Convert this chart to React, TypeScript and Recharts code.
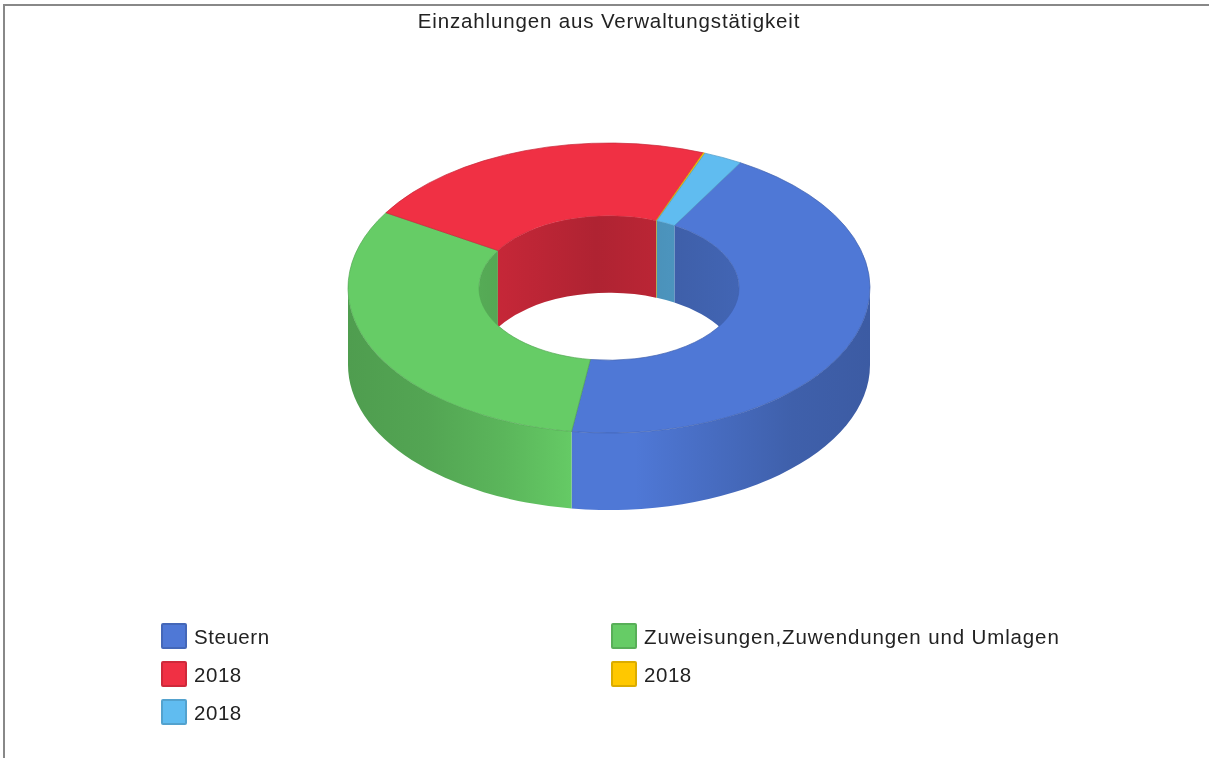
import React from 'react';
import { PieChart, Pie, Legend } from 'recharts';

const title = 'Einzahlungen aus Verwaltungstätigkeit';
const categories = ['Steuern', 'Zuweisungen,Zuwendungen und Umlagen', '2018', '2018', '2018'];
const values = [43.9, 31.4, 22.2, 0.1, 2.4];
const colors = ['#4F78D6', '#66CC66', '#F03044', '#FFC800', '#60BCF0'];

const tableData = categories.map((name, i) => ({ name, value: values[i], fill: colors[i], key: i }));

const W = 1209;
const H = 758;
const CX = 609;
const CY = 288;
const RX = 261;
const RI = 130;
const SQUASH = 145 / 261;
const DEPTH = 77;
const FONT = '"Liberation Sans", Arial, sans-serif';

const px = (cx: number, r: number, a: number) => cx + r * Math.cos((a * Math.PI) / 180);
const py = (cy: number, r: number, a: number) => cy - r * SQUASH * Math.sin((a * Math.PI) / 180);

const shade = (hex: string, f: number) => {
  const n = parseInt(hex.slice(1), 16);
  const c = [(n >> 16) & 255, (n >> 8) & 255, n & 255].map((v) => Math.round(v * f));
  return `rgb(${c[0]},${c[1]},${c[2]})`;
};

// Angles run clockwise: start > end.
const topPath = (p: any) => {
  const { cx, cy, innerRadius: ri, outerRadius: ro, startAngle: s, endAngle: e } = p;
  const large = Math.abs(s - e) > 180 ? 1 : 0;
  return [
    `M${px(cx, ro, s)},${py(cy, ro, s)}`,
    `A${ro},${ro * SQUASH} 0 ${large} 1 ${px(cx, ro, e)},${py(cy, ro, e)}`,
    `L${px(cx, ri, e)},${py(cy, ri, e)}`,
    `A${ri},${ri * SQUASH} 0 ${large} 0 ${px(cx, ri, s)},${py(cy, ri, s)}`,
    'Z',
  ].join(' ');
};

const wallSegments = (s: number, e: number, windows: number[][]) =>
  windows
    .map(([hi, lo]) => [Math.min(s, hi), Math.max(e, lo)])
    .filter(([a, b]) => a - b > 0.01);

const wallPath = (cx: number, cy: number, r: number, a: number, b: number) =>
  [
    `M${px(cx, r, a)},${py(cy, r, a)}`,
    `A${r},${r * SQUASH} 0 0 1 ${px(cx, r, b)},${py(cy, r, b)}`,
    `L${px(cx, r, b)},${py(cy, r, b) + DEPTH}`,
    `A${r},${r * SQUASH} 0 0 0 ${px(cx, r, a)},${py(cy, r, a) + DEPTH}`,
    'Z',
  ].join(' ');

const TopShape = (p: any) => (
  <path d={topPath(p)} fill={p.fill} stroke={shade(p.fill, 0.82)} strokeWidth={0.7} strokeLinejoin="round" />
);

const OuterWall = (p: any) => {
  const { cx, cy, outerRadius: ro, startAngle: s, endAngle: e, fill, index } = p;
  const id = `outer-${index}`;
  const segs = wallSegments(s, e, [[0, -180], [-360, -540]]);
  if (!segs.length) return <g />;
  return (
    <g>
      <defs>
        <linearGradient id={id} gradientUnits="userSpaceOnUse" x1={cx - ro} x2={cx + ro} y1={0} y2={0}>
          <stop offset="0" stopColor={shade(fill, 0.77)} />
          <stop offset="0.15" stopColor={shade(fill, 0.81)} />
          <stop offset="0.3" stopColor={shade(fill, 0.89)} />
          <stop offset="0.44" stopColor={shade(fill, 1)} />
          <stop offset="0.55" stopColor={shade(fill, 1)} />
          <stop offset="0.85" stopColor={shade(fill, 0.8)} />
          <stop offset="1" stopColor={shade(fill, 0.76)} />
        </linearGradient>
      </defs>
      {segs.map(([a, b], i) => (
        <path key={i} d={wallPath(cx, cy, ro, a, b)} fill={`url(#${id})`} />
      ))}
    </g>
  );
};

const InnerWall = (p: any) => {
  const { cx, cy, innerRadius: ri, startAngle: s, endAngle: e, fill, index } = p;
  const id = `inner-${index}`;
  const segs = wallSegments(s, e, [[180, 0], [-180, -360]]);
  if (!segs.length) return <g />;
  return (
    <g>
      <defs>
        <linearGradient id={id} gradientUnits="userSpaceOnUse" x1={cx - ri} x2={cx + ri} y1={0} y2={0}>
          <stop offset="0" stopColor={shade(fill, 0.84)} />
          <stop offset="0.45" stopColor={shade(fill, 0.73)} />
          <stop offset="1" stopColor={shade(fill, 0.84)} />
        </linearGradient>
      </defs>
      {segs.map(([a, b], i) => (
        <path key={i} d={wallPath(cx, cy, ri, a, b)} fill={`url(#${id})`} />
      ))}
    </g>
  );
};

const LegendBox = ({ payload }: any) => (
  <div style={{ position: 'relative', width: W, height: H }}>
    {(payload || []).slice(0, categories.length).map((item: any, i: number) => {
      const left = i % 2 === 0 ? 161 : 611;
      const top = 623 + Math.floor(i / 2) * 38;
      return (
        <div key={i} style={{ position: 'absolute', left, top, height: 26, display: 'flex', alignItems: 'center', whiteSpace: 'nowrap' }}>
          <span
            style={{
              display: 'block',
              boxSizing: 'border-box',
              width: 26,
              height: 26,
              background: item.color,
              border: `2px solid ${shade(item.color, 0.86)}`,
              borderRadius: 2,
            }}
          />
          <span
            style={{
              marginLeft: 7,
              position: 'relative',
              top: 1,
              fontFamily: FONT,
              fontSize: 20.5,
              letterSpacing: String(item.value).length > 10 ? 0.87 : 0.55,
              color: '#222',
            }}
          >
            {item.value}
          </span>
        </div>
      );
    })}
  </div>
);

export default function App() {
  const common = {
    data: tableData,
    dataKey: 'value',
    nameKey: 'name',
    cx: CX,
    cy: CY,
    innerRadius: RI,
    outerRadius: RX,
    startAngle: 59.8,
    endAngle: -300.2,
    paddingAngle: 0,
    isAnimationActive: false,
  };
  return (
    <div style={{ position: 'absolute', left: 0, top: 0, width: W, height: H, overflow: 'hidden', background: '#fff', filter: 'blur(0.45px)' }}>
      <div style={{ position: 'absolute', left: 3, top: 4, right: 0, bottom: 0, borderLeft: '2px solid #888', borderTop: '2px solid #888' }} />
      <PieChart width={W} height={H} margin={{ top: 0, right: 0, bottom: 0, left: 0 }}>
        <text x={609} y={28} textAnchor="middle" fontFamily={FONT} fontSize={20.5} letterSpacing={0.85} fill="#222">
          {title}
        </text>
        <Pie {...common} legendType="none" shape={InnerWall} />
        <Pie {...common} legendType="none" shape={OuterWall} />
        <Pie {...common} shape={TopShape} />
        <Legend content={LegendBox} itemSorter={null} wrapperStyle={{ left: 0, top: 0, width: W, height: H, pointerEvents: 'none' }} />
      </PieChart>
    </div>
  );
}
